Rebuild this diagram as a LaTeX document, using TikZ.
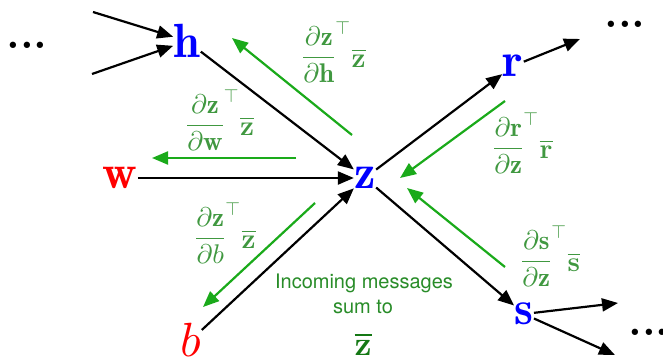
\documentclass[tikz,border=0pt]{standalone}
\usepackage{fontspec}
\DeclareFontShape{OML}{cmm}{m}{it}{<->cmmi10}{}
\DeclareFontShape{OML}{cmm}{b}{it}{<->cmmib10}{}
\DeclareFontShape{OMS}{cmsy}{m}{n}{<->cmsy10}{}
\DeclareFontShape{OMS}{cmsy}{b}{n}{<->cmbsy10}{}
\DeclareFontShape{OT1}{cmr}{m}{n}{<->cmr10}{}
\DeclareFontShape{OT1}{cmr}{bx}{n}{<->cmbx10}{}
\DeclareFontShape{OMX}{cmex}{m}{n}{<->cmex10}{}
\newfontfamily\herosfont{TeX Gyre Heros}
\usetikzlibrary{arrows.meta}
\definecolor{nodeblue}{RGB}{0,0,255}
\definecolor{nodered}{RGB}{255,0,0}
\definecolor{arrowgreen}{RGB}{26,170,26}
\definecolor{labelgreen}{RGB}{64,152,64}
\definecolor{textgreen}{RGB}{40,140,40}
\definecolor{sumgreen}{RGB}{20,120,20}
\newcommand{\barvec}[1]{$\overline{\mbox{\bfseries #1}}$}
\newcommand{\msgfrac}[3]{$\displaystyle\frac{\partial #1}{\partial #2}^{\top}$\hspace{1pt}\raisebox{-3pt}{\fontsize{28}{32}\selectfont\barvec{#3}}}
\begin{document}
\begin{tikzpicture}[x=1pt,y=-1pt,
  var/.style={inner sep=0.5pt, outer sep=0pt, font=\fontsize{48}{56}\selectfont},
  dots/.style={anchor=base, inner sep=0pt, font=\fontsize{44}{50}\selectfont\bfseries},
  fwd/.style={line width=2.2pt, -{Triangle[length=16pt,width=13pt]}},
  msg/.style={fwd, color=arrowgreen},
  lbl/.style={anchor=base west, inner sep=0pt, text=labelgreen, font=\fontsize{27}{32}\selectfont},
  note/.style={anchor=base, inner sep=0pt, text=textgreen, font=\herosfont\fontsize{20}{24}\selectfont}]
\useasboundingbox (0,0) rectangle (663,362);

% variable nodes
\node[var, text=nodeblue] (h) at (187,41) {$\mathbf{h}$};
\node[var, text=nodered] (w) at (120,178) {$\mathbf{w}$};
\node[var, text=nodeblue] (z) at (365,178) {$\mathbf{z}$};
\node[var, text=nodered] (b) at (191,340) {$b$};
\node[var, text=nodeblue] (r) at (513,66) {$\mathbf{r}$};
\node[var, text=nodeblue] (s) at (524,314) {$\mathbf{s}$};

% ellipses
\node[dots] (dl) at (27,48) {...};
\node[dots] (dtr) at (625,27) {...};
\node[dots] (dbr) at (649,335) {...};

% free ends
\coordinate (inA) at (93,12);
\coordinate (inB) at (92,74);
\coordinate (outR) at (580,39);
\coordinate (outS1) at (618,303);
\coordinate (outS2) at (615,355);

% forward arrows
\draw[fwd] (inA) -- (h);
\draw[fwd] (inB) -- (h);
\draw[fwd] (h) -- (z);
\draw[fwd] (w) -- (z);
\draw[fwd] (b) -- (z);
\draw[fwd] (z) -- (r);
\draw[fwd] (z) -- (s);
\draw[fwd] (r) -- (outR);
\draw[fwd] (s) -- (outS1);
\draw[fwd] (s) -- (outS2);

% message arrows
\coordinate (mh0) at (352,135); \coordinate (mh1) at (232,38);
\coordinate (mw0) at (296,158); \coordinate (mw1) at (152,158);
\coordinate (mb0) at (315,203); \coordinate (mb1) at (203,307);
\coordinate (mr0) at (505,101); \coordinate (mr1) at (400,178);
\coordinate (ms0) at (505,267); \coordinate (ms1) at (407,188);
\draw[msg] (mh0) -- (mh1);
\draw[msg] (mw0) -- (mw1);
\draw[msg] (mb0) -- (mb1);
\draw[msg] (mr0) -- (mr1);
\draw[msg] (ms0) -- (ms1);

% labels
\node[lbl] (lh) at (302,64) {\msgfrac{\mathbf{z}}{\mathbf{h}}{z}};
\node[lbl] (lw) at (186,132) {\msgfrac{\mathbf{z}}{\mathbf{w}}{z}};
\node[lbl] (lb) at (195,245) {\msgfrac{\mathbf{z}}{b}{z}};
\node[lbl] (lr) at (493,155) {\msgfrac{\mathbf{r}}{\mathbf{z}}{r}};
\node[lbl] (ls) at (521,268) {\msgfrac{\mathbf{s}}{\mathbf{z}}{s}};

% note
\node[note] (n1) at (364,288) {Incoming messages};
\node[note] (n2) at (363,313) {sum to};
\node[anchor=base, inner sep=0pt, text=sumgreen, font=\fontsize{34}{40}\selectfont] (n3) at (363,355) {\barvec{z}};
\end{tikzpicture}
\end{document}
